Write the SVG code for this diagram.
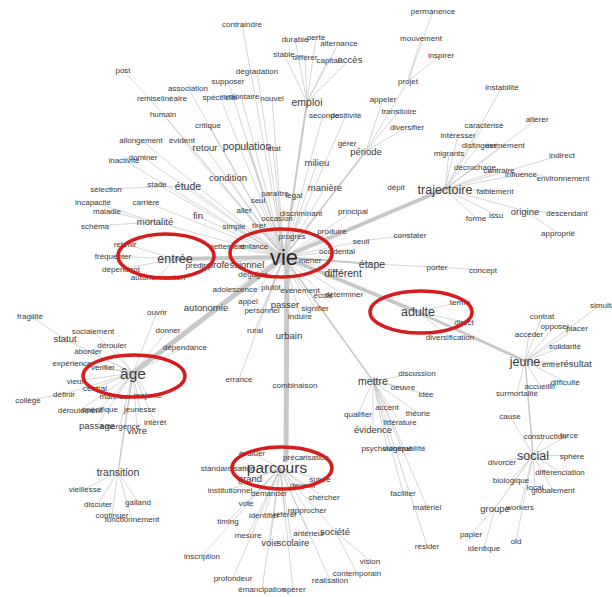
<svg xmlns="http://www.w3.org/2000/svg" width="612" height="597" viewBox="0 0 612 597">
<style>
.t{font-family:"Liberation Sans",Arial,sans-serif;fill:#3a3a3a;text-anchor:middle}
.s{font-size:8px}.m{font-size:9.5px}.l{font-size:10.5px}.x{font-size:12.5px}.h{font-size:15.5px}.v{font-size:22px;fill:#222}
.e{stroke:#c4c4c4;fill:none;stroke-width:.7}
.k{stroke:#c8c8c8;fill:none;stroke-linecap:round}
.r{fill:none;stroke:#d61d1d;stroke-width:3.5}
</style>
<rect width="612" height="597" fill="#fff"/>
<g id="connectors">
<path class="e" d="M284 257L242 24M284 257L257 71M284 257L228 81M284 257L220 97M284 257L188 88M284 257L241 96M284 257L272 98M284 257L273 148M284 257L205 147M284 257L208 125M284 257L163 114M284 257L149 98M284 257L182 140M284 257L141 140M284 257L143 157M284 257L124 160M284 257L228 177M284 257L157 184M284 257L188 186M284 257L146 202M284 257L155 222M284 257L198 216M284 257L275 193M284 257L295 195M284 257L258 200M284 257L244 210M284 257L277 218M284 257L234 226M284 257L259 225M284 257L301 213M284 257L353 211M284 257L292 236M284 257L332 231M284 257L337 251M284 257L361 241M284 257L310 260M284 257L343 273M284 257L300 290M284 257L323 295M284 257L343 294M284 257L315 308M284 257L300 316M284 257L285 305M284 257L262 310M284 257L248 301M284 257L271 287M284 257L235 289M284 257L253 274M284 257L198 265M284 257L236 265M284 257L227 246M284 257L254 246M284 257L317 163M284 257L325 188M284 257L323 115M284 257L346 115M284 257L255 330M284 257L289 335M284 257L239 379"/>
<path class="e" d="M123 70L149 98M106 189L188 186M93 202L155 222M107 211L155 222M95 226L155 222"/>
<path class="e" d="M307 102L295 39M307 102L316 37M307 102L339 43M307 102L284 54M307 102L305 57M307 102L328 60M307 102L349 60"/>
<path class="e" d="M366 151L347 143M366 151L383 99M366 151L399 111M366 151L407 127M366 151L408 81M408 81L421 38M408 81L441 55M408 81L433 11"/>
<path class="e" d="M445 189L502 87M445 189L537 119M445 189L484 125M445 189L458 135M445 189L479 145M445 189L505 145M445 189L449 153M445 189L475 167M445 189L499 170M445 189L521 174M445 189L562 155M445 189L495 191M445 189L476 218M445 189L496 215M445 189L525 211M521 174L563 178M525 211L567 213M525 211L558 233"/>
<path class="e" d="M175 259L125 244M175 259L113 256M175 259L121 269M175 259L158 277"/>
<path class="e" d="M133 373L65 339M133 373L93 331M133 373L112 345M133 373L88 351M133 373L72 363M133 373L103 367M133 373L76 381M133 373L64 394M133 373L95 388M133 373L115 396M133 373L148 395M133 373L80 410M133 373L100 409M133 373L140 409M133 373L97 425M133 373L120 426M133 373L137 430M133 373L155 422M133 373L157 312M133 373L168 330M133 373L185 347M30 316L65 339M28 400L64 394"/>
<path class="e" d="M118 472L85 489M118 472L98 504M118 472L138 502M118 472L112 515M118 472L132 519"/>
<path class="e" d="M280 468L228 468M280 468L250 479M280 468L252 453M280 468L306 457M280 468L320 479M280 468L303 485M280 468L230 490M280 468L269 493M280 468L246 503M280 468L228 521M280 468L264 515M280 468L285 514M280 468L307 510M280 468L324 497M280 468L202 556M280 468L248 535M280 468L270 543M280 468L292 543M280 468L309 533M280 468L335 531M280 468L233 578M280 468L262 589M280 468L293 589M280 468L330 580M335 531L370 561M335 531L357 573"/>
<path class="e" d="M373 381L417 373M373 381L403 387M373 381L426 394M373 381L358 414M373 381L387 407M373 381L418 413M373 381L400 422M373 381L373 429M373 381L387 448M373 381L404 448M373 381L403 493M373 381L427 507M373 381L427 546"/>
<path class="e" d="M418 312L460 302M418 312L464 322M418 312L450 337M372 264L437 267L483 270M361 241L410 235"/>
<path class="e" d="M525 361L542 316M525 361L555 326M525 361L577 328M525 361L529 334M525 361L565 346M525 361L551 364M525 361L575 364M525 361L565 382M525 361L540 386M525 361L517 393M525 361L600 305"/>
<path class="e" d="M533 455L510 416M533 455L545 436M533 455L569 435M533 455L572 456M533 455L502 462M533 455L560 472M533 455L511 480M533 455L535 487M533 455L553 490M533 455L520 507M533 455L516 541M495 508L471 534M495 508L484 548"/>
<line class="k" x1="284" y1="257" x2="445" y2="189" stroke-width="4"/>
<line class="k" x1="284" y1="257" x2="175" y2="259" stroke-width="4"/>
<line class="k" x1="284" y1="257" x2="133" y2="373" stroke-width="5"/>
<line class="k" x1="287" y1="257" x2="286" y2="460" stroke-width="5"/>
<line class="k" x1="284" y1="257" x2="418" y2="312" stroke-width="4"/>
<line class="k" x1="418" y1="312" x2="525" y2="361" stroke-width="3"/>
<line class="k" x1="525" y1="361" x2="533" y2="455" stroke-width="1.5"/>
<line class="k" x1="284" y1="257" x2="307" y2="102" stroke-width="2"/>
<line class="k" x1="284" y1="257" x2="373" y2="381" stroke-width="1.5"/>
<line class="k" x1="284" y1="257" x2="366" y2="151" stroke-width="1.5"/>
<line class="k" x1="284" y1="257" x2="372" y2="264" stroke-width="2"/>
<line class="k" x1="133" y1="373" x2="118" y2="472" stroke-width="1.5"/>
<line class="k" x1="284" y1="257" x2="247" y2="145" stroke-width="1.2"/>
<line class="k" x1="533" y1="455" x2="495" y2="508" stroke-width="1"/>
</g>
<g id="n-contraindre"><text class="t s" x="242" y="27">contraindre</text></g>
<g id="n-durable"><text class="t s" x="295" y="42">durable</text></g>
<g id="n-perte"><text class="t s" x="316" y="40">perte</text></g>
<g id="n-alternance"><text class="t s" x="339" y="46">alternance</text></g>
<g id="n-stable"><text class="t s" x="284" y="57">stable</text></g>
<g id="n-differer"><text class="t s" x="305" y="60">différer</text></g>
<g id="n-capital"><text class="t s" x="328" y="63">capital</text></g>
<g id="n-acces"><text class="t m" x="350" y="63">accès</text></g>
<g id="n-emploi"><text class="t l" x="307" y="106">emploi</text></g>
<g id="n-post"><text class="t s" x="123" y="73">post</text></g>
<g id="n-association"><text class="t s" x="188" y="91">association</text></g>
<g id="n-supposer"><text class="t s" x="228" y="84">supposer</text></g>
<g id="n-degradation"><text class="t s" x="257" y="74">dégradation</text></g>
<g id="n-remise"><text class="t s" x="149" y="101">remise</text></g>
<g id="n-lineaire"><text class="t s" x="174" y="101">linéaire</text></g>
<g id="n-specificite"><text class="t s" x="220" y="100">spécificité</text></g>
<g id="n-volontaire"><text class="t s" x="242" y="99">volontaire</text></g>
<g id="n-nouvel"><text class="t s" x="272" y="101">nouvel</text></g>
<g id="n-humain"><text class="t s" x="163" y="117">humain</text></g>
<g id="n-critique"><text class="t s" x="208" y="128">critique</text></g>
<g id="n-allongement"><text class="t s" x="141" y="143">allongement</text></g>
<g id="n-evident"><text class="t s" x="182" y="143">évident</text></g>
<g id="n-retour"><text class="t m" x="205" y="151">retour</text></g>
<g id="n-population"><text class="t l" x="247" y="150">population</text></g>
<g id="n-etat"><text class="t s" x="274" y="151">état</text></g>
<g id="n-dominer"><text class="t s" x="143" y="160">dominer</text></g>
<g id="n-inactivite"><text class="t s" x="124" y="163">inactivité</text></g>
<g id="n-condition"><text class="t m" x="228" y="181">condition</text></g>
<g id="n-stade"><text class="t s" x="157" y="187">stade</text></g>
<g id="n-etude"><text class="t l" x="188" y="190">étude</text></g>
<g id="n-selection"><text class="t s" x="106" y="192">sélection</text></g>
<g id="n-paraitre"><text class="t s" x="275" y="196">paraître</text></g>
<g id="n-legal"><text class="t s" x="294" y="198">légal</text></g>
<g id="n-seul"><text class="t s" x="258" y="203">seul</text></g>
<g id="n-milieu"><text class="t m" x="317" y="166">milieu</text></g>
<g id="n-maniere"><text class="t m" x="325" y="191">manière</text></g>
<g id="n-depit"><text class="t s" x="396" y="190">dépit</text></g>
<g id="n-trajectoire"><text class="t x" x="445" y="194">trajectoire</text></g>
<g id="n-permanence"><text class="t s" x="433" y="14">permanence</text></g>
<g id="n-mouvement"><text class="t s" x="421" y="41">mouvement</text></g>
<g id="n-inspirer"><text class="t s" x="441" y="58">inspirer</text></g>
<g id="n-projet"><text class="t s" x="408" y="84">projet</text></g>
<g id="n-appeler"><text class="t s" x="383" y="102">appeler</text></g>
<g id="n-transitoire"><text class="t s" x="399" y="114">transitoire</text></g>
<g id="n-diversifier"><text class="t s" x="407" y="130">diversifier</text></g>
<g id="n-seconde"><text class="t s" x="324" y="118">seconde</text></g>
<g id="n-positivite"><text class="t s" x="346" y="118">positivité</text></g>
<g id="n-gerer"><text class="t s" x="347" y="146">gérer</text></g>
<g id="n-periode"><text class="t m" x="366" y="155">période</text></g>
<g id="n-instabilite"><text class="t s" x="502" y="90">instabilité</text></g>
<g id="n-alterer"><text class="t s" x="537" y="122">altérer</text></g>
<g id="n-caracterise"><text class="t s" x="484" y="128">caractérisé</text></g>
<g id="n-interesser"><text class="t s" x="458" y="138">intéresser</text></g>
<g id="n-distinguer"><text class="t s" x="479" y="148">distinguer</text></g>
<g id="n-evenement1"><text class="t s" x="505" y="148">événement</text></g>
<g id="n-migrants"><text class="t s" x="449" y="156">migrants</text></g>
<g id="n-decrochage"><text class="t s" x="475" y="170">décrochage</text></g>
<g id="n-contraire"><text class="t s" x="499" y="173">contraire</text></g>
<g id="n-influence"><text class="t s" x="521" y="177">influence</text></g>
<g id="n-environnement"><text class="t s" x="563" y="181">environnement</text></g>
<g id="n-indirect"><text class="t s" x="562" y="158">indirect</text></g>
<g id="n-faiblement"><text class="t s" x="495" y="194">faiblement</text></g>
<g id="n-forme"><text class="t s" x="476" y="221">forme</text></g>
<g id="n-issu"><text class="t s" x="496" y="218">issu</text></g>
<g id="n-origine"><text class="t m" x="525" y="215">origine</text></g>
<g id="n-descendant"><text class="t s" x="567" y="216">descendant</text></g>
<g id="n-approprie"><text class="t s" x="558" y="236">approprié</text></g>
<g id="n-concept"><text class="t s" x="483" y="273">concept</text></g>
<g id="n-porter"><text class="t s" x="437" y="270">porter</text></g>
<g id="n-constater"><text class="t s" x="410" y="238">constater</text></g>
<g id="n-seuil"><text class="t s" x="361" y="244">seuil</text></g>
<g id="n-occidental"><text class="t s" x="337" y="254">occidental</text></g>
<g id="n-produire"><text class="t s" x="332" y="234">produire</text></g>
<g id="n-etape"><text class="t l" x="372" y="268">étape</text></g>
<g id="n-different"><text class="t l" x="343" y="277">différent</text></g>
<g id="n-mener"><text class="t s" x="310" y="263">mener</text></g>
<g id="n-evenement2"><text class="t s" x="300" y="293">événement</text></g>
<g id="n-ecole"><text class="t s" x="323" y="298">école</text></g>
<g id="n-determiner"><text class="t s" x="344" y="297">déterminer</text></g>
<g id="n-signifier"><text class="t s" x="315" y="311">signifier</text></g>
<g id="n-induire"><text class="t s" x="300" y="319">induire</text></g>
<g id="n-passer"><text class="t m" x="285" y="308">passer</text></g>
<g id="n-personnel"><text class="t s" x="262" y="313">personnel</text></g>
<g id="n-appel"><text class="t s" x="248" y="304">appel</text></g>
<g id="n-plutot"><text class="t s" x="271" y="290">plutôt</text></g>
<g id="n-adolescence"><text class="t s" x="235" y="292">adolescence</text></g>
<g id="n-degager"><text class="t s" x="253" y="277">dégager</text></g>
<g id="n-predire"><text class="t s" x="198" y="268">prédire</text></g>
<g id="n-professionnel"><text class="t m" x="236" y="268">professionnel</text></g>
<g id="n-nettement"><text class="t s" x="227" y="249">nettement</text></g>
<g id="n-enfance"><text class="t s" x="254" y="249">enfance</text></g>
<g id="n-fin"><text class="t m" x="198" y="219">fin</text></g>
<g id="n-aller"><text class="t s" x="244" y="213">aller</text></g>
<g id="n-occasion"><text class="t s" x="277" y="221">occasion</text></g>
<g id="n-simple"><text class="t s" x="234" y="229">simple</text></g>
<g id="n-tirer"><text class="t s" x="259" y="228">tirer</text></g>
<g id="n-discriminant"><text class="t s" x="301" y="216">discriminant</text></g>
<g id="n-principal"><text class="t s" x="353" y="214">principal</text></g>
<g id="n-progres"><text class="t s" x="292" y="239">progrès</text></g>
<g id="n-vie"><text class="t v" x="284" y="265">vie</text></g>
<g id="n-entree"><text class="t x" x="175" y="263">entrée</text></g>
<g id="n-retenir"><text class="t s" x="125" y="247">retenir</text></g>
<g id="n-frequenter"><text class="t s" x="113" y="259">fréquenter</text></g>
<g id="n-dependant"><text class="t s" x="121" y="272">dépendant</text></g>
<g id="n-autonomisation"><text class="t s" x="158" y="280">autonomisation</text></g>
<g id="n-incapacite"><text class="t s" x="93" y="205">incapacité</text></g>
<g id="n-carriere"><text class="t s" x="146" y="205">carrière</text></g>
<g id="n-maladie"><text class="t s" x="107" y="214">maladie</text></g>
<g id="n-mortalite"><text class="t m" x="155" y="225">mortalité</text></g>
<g id="n-schema"><text class="t s" x="95" y="229">schéma</text></g>
<g id="n-adulte"><text class="t x" x="418" y="316">adulte</text></g>
<g id="n-terme"><text class="t s" x="460" y="305">terme</text></g>
<g id="n-direct"><text class="t s" x="464" y="325">direct</text></g>
<g id="n-diversification"><text class="t s" x="450" y="340">diversification</text></g>
<g id="n-simultane"><text class="t s" x="590" y="308" style="text-anchor:start">simultané</text></g>
<g id="n-contrat"><text class="t s" x="542" y="319">contrat</text></g>
<g id="n-opposer"><text class="t s" x="555" y="329">opposer</text></g>
<g id="n-placer"><text class="t s" x="577" y="331">placer</text></g>
<g id="n-acceder"><text class="t s" x="529" y="337">accéder</text></g>
<g id="n-solidarite"><text class="t s" x="565" y="349">solidarité</text></g>
<g id="n-jeune"><text class="t x" x="525" y="366">jeune</text></g>
<g id="n-entre"><text class="t s" x="551" y="367">entre</text></g>
<g id="n-resultat"><text class="t m" x="576" y="367">résultat</text></g>
<g id="n-difficulte"><text class="t s" x="565" y="385">difficulté</text></g>
<g id="n-accueillir"><text class="t s" x="540" y="389">accueillir</text></g>
<g id="n-surmortalite"><text class="t s" x="517" y="396">surmortalité</text></g>
<g id="n-cause"><text class="t s" x="510" y="419">cause</text></g>
<g id="n-construction"><text class="t s" x="545" y="439">construction</text></g>
<g id="n-force"><text class="t s" x="569" y="438">force</text></g>
<g id="n-social"><text class="t x" x="533" y="460">social</text></g>
<g id="n-sphere"><text class="t s" x="572" y="459">sphère</text></g>
<g id="n-divorcer"><text class="t s" x="502" y="465">divorcer</text></g>
<g id="n-differenciation"><text class="t s" x="560" y="475">différenciation</text></g>
<g id="n-biologique"><text class="t s" x="511" y="483">biologique</text></g>
<g id="n-local"><text class="t s" x="535" y="490">local</text></g>
<g id="n-globalement"><text class="t s" x="553" y="493">globalement</text></g>
<g id="n-groupe"><text class="t m" x="495" y="512">groupe</text></g>
<g id="n-workers"><text class="t s" x="520" y="510">workers</text></g>
<g id="n-papier"><text class="t s" x="471" y="537">papier</text></g>
<g id="n-identique"><text class="t s" x="484" y="551">identique</text></g>
<g id="n-old"><text class="t s" x="516" y="544">old</text></g>
<g id="n-fragilite"><text class="t s" x="30" y="319">fragilité</text></g>
<g id="n-statut"><text class="t m" x="65" y="342">statut</text></g>
<g id="n-socialement"><text class="t s" x="93" y="334">socialement</text></g>
<g id="n-derouler"><text class="t s" x="112" y="348">dérouler</text></g>
<g id="n-aborder"><text class="t s" x="88" y="354">aborder</text></g>
<g id="n-experience"><text class="t s" x="72" y="366">expérience</text></g>
<g id="n-verifier"><text class="t s" x="103" y="370">vérifier</text></g>
<g id="n-vieux"><text class="t s" x="76" y="384">vieux</text></g>
<g id="n-definir"><text class="t s" x="64" y="397">définir</text></g>
<g id="n-central"><text class="t s" x="95" y="391">central</text></g>
<g id="n-college"><text class="t s" x="28" y="403">collège</text></g>
<g id="n-maitriser"><text class="t s" x="115" y="399">maîtriser</text></g>
<g id="n-majorite"><text class="t s" x="148" y="398">majorité</text></g>
<g id="n-deroulement"><text class="t s" x="80" y="413">déroulement</text></g>
<g id="n-specifique"><text class="t s" x="100" y="412">spécifique</text></g>
<g id="n-jeunesse"><text class="t s" x="140" y="412">jeunesse</text></g>
<g id="n-passage"><text class="t m" x="97" y="429">passage</text></g>
<g id="n-emergence"><text class="t s" x="120" y="429">émergence</text></g>
<g id="n-vivre"><text class="t m" x="137" y="434">vivre</text></g>
<g id="n-interet"><text class="t s" x="155" y="425">intérêt</text></g>
<g id="n-age"><text class="t h" x="133" y="379">âge</text></g>
<g id="n-transition"><text class="t l" x="118" y="476">transition</text></g>
<g id="n-vieillesse"><text class="t s" x="85" y="492">vieillesse</text></g>
<g id="n-discuter"><text class="t s" x="98" y="507">discuter</text></g>
<g id="n-galland"><text class="t s" x="138" y="505">galland</text></g>
<g id="n-continuer"><text class="t s" x="112" y="518">continuer</text></g>
<g id="n-fonctionnement"><text class="t s" x="132" y="522">fonctionnement</text></g>
<g id="n-ouvrir"><text class="t s" x="157" y="315">ouvrir</text></g>
<g id="n-donner"><text class="t s" x="168" y="333">donner</text></g>
<g id="n-dependance"><text class="t s" x="185" y="350">dépendance</text></g>
<g id="n-autonomie"><text class="t m" x="206" y="311">autonomie</text></g>
<g id="n-rural"><text class="t s" x="255" y="333">rural</text></g>
<g id="n-urbain"><text class="t m" x="289" y="339">urbain</text></g>
<g id="n-errance"><text class="t s" x="239" y="382">errance</text></g>
<g id="n-combinaison"><text class="t s" x="295" y="388">combinaison</text></g>
<g id="n-mettre"><text class="t l" x="373" y="385">mettre</text></g>
<g id="n-discussion"><text class="t s" x="417" y="376">discussion</text></g>
<g id="n-oeuvre"><text class="t s" x="403" y="390">oeuvre</text></g>
<g id="n-idee"><text class="t s" x="426" y="397">idée</text></g>
<g id="n-qualifier"><text class="t s" x="358" y="417">qualifier</text></g>
<g id="n-accent"><text class="t s" x="387" y="410">accent</text></g>
<g id="n-theorie"><text class="t s" x="418" y="416">théorie</text></g>
<g id="n-litterature"><text class="t s" x="400" y="425">littérature</text></g>
<g id="n-evidence"><text class="t m" x="373" y="433">évidence</text></g>
<g id="n-psychologique"><text class="t s" x="387" y="451">psychologique</text></g>
<g id="n-vulnerabilite"><text class="t s" x="404" y="451">vulnérabilité</text></g>
<g id="n-faciliter"><text class="t s" x="403" y="496">faciliter</text></g>
<g id="n-materiel"><text class="t s" x="427" y="510">matériel</text></g>
<g id="n-resider"><text class="t s" x="427" y="549">résider</text></g>
<g id="n-vision"><text class="t s" x="370" y="564">vision</text></g>
<g id="n-contemporain"><text class="t s" x="357" y="576">contemporain</text></g>
<g id="n-realisation"><text class="t s" x="330" y="583">réalisation</text></g>
<g id="n-societe"><text class="t m" x="335" y="535">société</text></g>
<g id="n-anterieur"><text class="t s" x="309" y="536">antérieur</text></g>
<g id="n-voie"><text class="t m" x="270" y="546">voie</text></g>
<g id="n-scolaire"><text class="t m" x="293" y="546">scolaire</text></g>
<g id="n-mesure"><text class="t s" x="248" y="538">mesure</text></g>
<g id="n-timing"><text class="t s" x="228" y="524">timing</text></g>
<g id="n-vote"><text class="t s" x="246" y="506">vote</text></g>
<g id="n-identifier"><text class="t s" x="264" y="518">identifier</text></g>
<g id="n-referer"><text class="t s" x="285" y="517">référer</text></g>
<g id="n-rapprocher"><text class="t s" x="307" y="513">rapprocher</text></g>
<g id="n-chercher"><text class="t s" x="324" y="500">chercher</text></g>
<g id="n-demander"><text class="t s" x="269" y="496">demander</text></g>
<g id="n-institutionnel"><text class="t s" x="230" y="493">institutionnel</text></g>
<g id="n-grand"><text class="t m" x="250" y="482">grand</text></g>
<g id="n-standardisation"><text class="t s" x="228" y="471">standardisation</text></g>
<g id="n-evaluer"><text class="t s" x="252" y="456">évaluer</text></g>
<g id="n-precarisation"><text class="t s" x="306" y="460">précarisation</text></g>
<g id="n-suivre"><text class="t s" x="320" y="482">suivre</text></g>
<g id="n-devenir"><text class="t s" x="303" y="488">devenir</text></g>
<g id="n-parcours"><text class="t h" x="277" y="473">parcours</text></g>
<g id="n-inscription"><text class="t s" x="202" y="559">inscription</text></g>
<g id="n-profondeur"><text class="t s" x="233" y="581">profondeur</text></g>
<g id="n-emancipation"><text class="t s" x="262" y="592">émancipation</text></g>
<g id="n-operer"><text class="t s" x="294" y="592">opérer</text></g>
<g id="highlights">
<ellipse class="r" cx="166" cy="256" rx="48" ry="22"/>
<ellipse class="r" cx="281" cy="253" rx="51" ry="24"/>
<ellipse class="r" cx="421" cy="312" rx="51" ry="21"/>
<ellipse class="r" cx="134" cy="376" rx="51" ry="21"/>
<ellipse class="r" cx="282" cy="468" rx="50" ry="21"/>
</g>
</svg>
